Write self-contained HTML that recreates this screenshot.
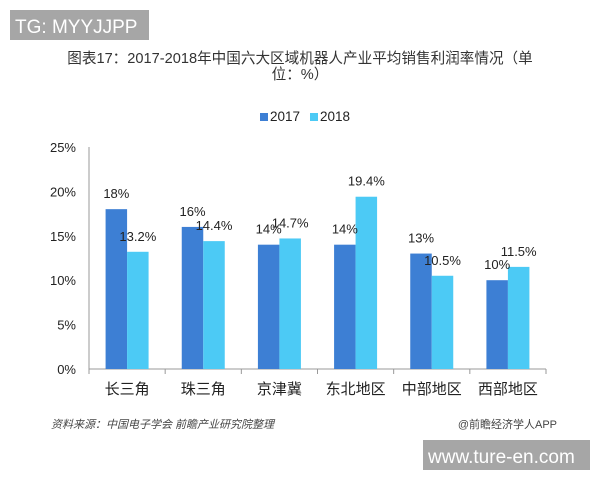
<!DOCTYPE html>
<html><head><meta charset="utf-8"><style>
body{margin:0;width:600px;height:480px;background:#fff;overflow:hidden;font-family:"Liberation Sans","Noto Sans CJK SC",sans-serif}
</style></head><body>
<svg width="600" height="480" xmlns="http://www.w3.org/2000/svg">
<rect x="10" y="10" width="139" height="30" fill="#a6a6a6"/>
<text x="15" y="33" font-size="19" fill="#fff" font-family="Liberation Sans,sans-serif">TG: MYYJJPP</text>
<text x="300" y="63" text-anchor="middle" font-size="14.6" fill="#333" font-family="Liberation Sans,Noto Sans CJK SC,sans-serif">图表17：2017-2018年中国六大区域机器人产业平均销售利润率情况（单</text>
<text x="300" y="79" text-anchor="middle" font-size="14.6" fill="#333" font-family="Liberation Sans,Noto Sans CJK SC,sans-serif">位：%）</text>
<g>
<rect x="260" y="113" width="8" height="8" fill="#3d7fd4"/>
<text x="270" y="121" font-size="13.5" fill="#222">2017</text>
<rect x="310" y="113" width="8" height="8" fill="#4ccaf5"/>
<text x="320" y="121" font-size="13.5" fill="#222">2018</text>
</g>
<g id="plot"></g>
<text x="51" y="428" font-size="11" font-style="italic" fill="#444" font-family="Liberation Sans,Noto Sans CJK SC,sans-serif">资料来源：中国电子学会 前瞻产业研究院整理</text>
<text x="557" y="428" text-anchor="end" font-size="11" fill="#444" font-family="Liberation Sans,Noto Sans CJK SC,sans-serif">@前瞻经济学人APP</text>
<rect x="423" y="440" width="167" height="30" fill="#a6a6a6"/>
<text x="428" y="463" font-size="19" fill="#fff">www.ture-en.com</text>
</svg>
<script>
const categories=["长三角","珠三角","京津冀","东北地区","中部地区","西部地区"];
const values2017=[18,16,14,14,13,10];
const values2018=[13.2,14.4,14.7,19.4,10.5,11.5];
const labels2017=["18%","16%","14%","14%","13%","10%"];
const labels2018=["13.2%","14.4%","14.7%","19.4%","10.5%","11.5%"];
const yTicks=[0,5,10,15,20,25];
const NS="http://www.w3.org/2000/svg";
const g=document.getElementById('plot');
const x0=89,x1=546,y0=369,y1=147,yMax=25;
const bw=(x1-x0)/categories.length;
const y=v=>y0-(v/yMax)*(y0-y1);
function mk(t,a){const e=document.createElementNS(NS,t);for(const k in a)e.setAttribute(k,a[k]);g.appendChild(e);return e;}
let ax=mk('line',{x1:x0,y1:y1,x2:x0,y2:y0,stroke:'#999'});


let bx=mk('line',{x1:x0,y1:y0,x2:x1,y2:y0,stroke:'#999'});


yTicks.forEach(t=>{
 const e=mk('text',{x:x0-13,y:y(t)+5,'text-anchor':'end','font-size':13,fill:'#222'});
 e.textContent=t+'%';
 
 
});
for(let i=0;i<=categories.length;i++){
 const tk=mk('line',{x1:x0+i*bw,y1:y0,x2:x0+i*bw,y2:y0+5,stroke:'#999'});
 
 
}
categories.forEach((c,i)=>{
 const cx=x0+bw*(i+0.5), w=21.5;
 const b1=mk('rect',{x:cx-w,y:y(values2017[i]),width:w,height:y0-y(values2017[i]),fill:'#3d7fd4'});
 
 
 const b2=mk('rect',{x:cx,y:y(values2018[i]),width:w,height:y0-y(values2018[i]),fill:'#4ccaf5'});
 
 
 const l1=mk('text',{x:cx-w/2,y:y(values2017[i])-11,'text-anchor':'middle','font-size':13,fill:'#222'});
 l1.textContent=labels2017[i];
 
 
 const l2=mk('text',{x:cx+w/2,y:y(values2018[i])-11,'text-anchor':'middle','font-size':13,fill:'#222'});
 l2.textContent=labels2018[i];
 
 
 const cl=mk('text',{x:cx,y:y0+25,'text-anchor':'middle','font-size':15,fill:'#222'});
 cl.textContent=c;
 
 
});
</script>
</body></html>
